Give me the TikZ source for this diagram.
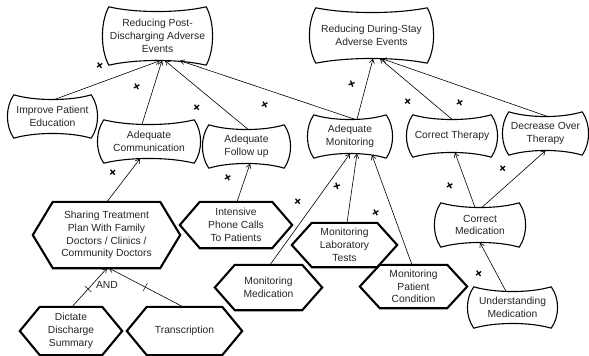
\documentclass[tikz,border=0pt]{standalone}
\usepackage{fontspec}
\setmainfont{Liberation Sans}
\usetikzlibrary{calc,arrows.meta}

% softgoal: pinched top and bottom, bulging sides
\newcommand\softgoaloutline[1]{%
  \draw[sgline] ($(#1.north west)+(6pt,4.5pt)$)
    .. controls ($(#1.north west)!0.3!(#1.north east)+(0,-1.8pt)$) and ($(#1.north west)!0.7!(#1.north east)+(0,-1.8pt)$) .. ($(#1.north east)+(-6pt,4.5pt)$)
    .. controls ($(#1.east)!0.55!(#1.north east)+(2.5pt,0)$) and ($(#1.east)!0.55!(#1.south east)+(2.5pt,0)$) .. ($(#1.south east)+(-6pt,-4.5pt)$)
    .. controls ($(#1.south west)!0.7!(#1.south east)+(0,1.8pt)$) and ($(#1.south west)!0.3!(#1.south east)+(0,1.8pt)$) .. ($(#1.south west)+(6pt,-4.5pt)$)
    .. controls ($(#1.west)!0.55!(#1.south west)+(-2.5pt,0)$) and ($(#1.west)!0.55!(#1.north west)+(-2.5pt,0)$) .. cycle;}

% task: hexagon with pointed ends
\newcommand\taskoutline[1]{%
  \draw[taskline] (#1.west) -- ($(#1.north west)+(20pt,0)$) -- ($(#1.north east)+(-20pt,0)$)
    -- (#1.east) -- ($(#1.south east)+(-20pt,0)$) -- ($(#1.south west)+(20pt,0)$) -- cycle;}

\tikzset{
  every node/.style={font=\fontsize{10.3}{12.7}\selectfont, align=center, inner sep=0pt, text=black!85},
  sgnode/.style={},
  tasknode/.style={},
  sgline/.style={line width=1.1pt, line join=round},
  taskline/.style={line width=2.1pt, line join=miter},
  contrib/.style={draw, line width=0.6pt, -{Straight Barb[length=4pt,width=5pt]}},
  plus/.style={font=\fontsize{13}{13}\selectfont\bfseries, text=black},
  andtick/.style={sloped, inner sep=0pt},
}

\begin{document}
\begin{tikzpicture}[x=1pt,y=-1pt]
\useasboundingbox[fill=white] (0,0) rectangle (589,356);

% softgoals
\node[sgnode, minimum width=109pt, minimum height=49pt] (rp) at (157.5,36) {Reducing Post-\\Discharging Adverse\\Events};
\node[sgnode, minimum width=123pt, minimum height=46pt] (rd) at (371.5,35.5) {Reducing During-Stay\\Adverse Events};
\node[sgnode, minimum width=89pt, minimum height=34pt] (imp) at (52.5,116.5) {Improve Patient\\Education};
\node[sgnode, minimum width=102pt, minimum height=34pt] (ac) at (149,141.5) {Adequate\\Communication};
\node[sgnode, minimum width=87pt, minimum height=34pt] (afu) at (246.5,146.5) {Adequate\\Follow up};
\node[sgnode, minimum width=84pt, minimum height=34pt] (am) at (350,136.5) {Adequate\\Monitoring};
\node[sgnode, minimum width=90pt, minimum height=33pt] (ct) at (452,136) {Correct Therapy};
\node[sgnode, minimum width=85pt, minimum height=34pt] (dot) at (545.5,133.5) {Decrease Over\\Therapy};
\node[sgnode, minimum width=90pt, minimum height=35pt] (cm) at (480,225) {Correct\\Medication};
\node[sgnode, minimum width=89pt, minimum height=32pt] (um) at (512.5,307.5) {Understanding\\Medication};

% tasks
\node[tasknode, minimum width=107pt, minimum height=43pt] (mpc) at (413.5,286.5) {Monitoring\\Patient\\Condition};
\node[tasknode, minimum width=105pt, minimum height=44pt] (mlt) at (344.5,245) {Monitoring\\Laboratory\\Tests};
\node[tasknode, minimum width=112pt, minimum height=46pt] (ipc) at (236,225) {Intensive\\Phone Calls\\To Patients};
\node[tasknode, minimum width=107pt, minimum height=45pt] (mm) at (268.5,287.5) {Monitoring\\Medication};
\node[tasknode, minimum width=147pt, minimum height=66pt] (sh) at (106.5,235) {Sharing Treatment\\Plan With Family\\Doctors / Clinics /\\Community Doctors};
\node[tasknode, minimum width=102pt, minimum height=48pt] (dds) at (71,331) {Dictate\\Discharge\\Summary};
\node[tasknode, minimum width=115pt, minimum height=48pt] (tr) at (184.5,331) {Transcription};

\foreach \n in {rp,rd,imp,ac,afu,am,ct,dot,cm,um} {\softgoaloutline{\n}}
\foreach \n in {mpc,mlt,ipc,mm,sh,dds,tr} {\taskoutline{\n}}

% contributions
\draw[contrib] ([xshift=2.5pt]imp.north) -- ([xshift=2.5pt]rp.south) node[plus,rotate=35] at (100,66) {+};
\draw[contrib] ([xshift=-7pt]ac.north) -- ([xshift=4.5pt]rp.south) node[plus,rotate=30] at (137,87) {+};
\draw[contrib] ([xshift=1.5pt]afu.north) -- ([xshift=7.5pt]rp.south) node[plus,rotate=40] at (197,108) {+};
\draw[contrib] ([xshift=5pt]am.north) -- ([xshift=22.5pt]rp.south) node[plus,rotate=30] at (265,105) {+};
\draw[contrib] ([xshift=7pt]am.north) -- ([xshift=1.5pt]rd.south) node[plus,rotate=20] at (352,85) {+};
\draw[contrib] (ct.north) -- ([xshift=8.5pt]rd.south) node[plus,rotate=40] at (408,102) {+};
\draw[contrib] ([xshift=1.5pt]dot.north) -- ([xshift=10.5pt]rd.south) node[plus,rotate=30] at (460,103) {+};
\draw[contrib] ([xshift=0.5pt]sh.north) -- ([xshift=-9pt]ac.south) node[plus,rotate=40] at (113,173) {+};
\draw[contrib] ([xshift=1pt]ipc.north) -- ([xshift=3.5pt]afu.south) node[plus,rotate=30] at (228,178) {+};
\draw[contrib] ([xshift=1.5pt]mm.north) -- (am.south) node[plus,rotate=40] at (298,202) {+};
\draw[contrib] ([xshift=2.5pt]mlt.north) -- ([xshift=7pt]am.south) node[plus,rotate=15] at (337,187) {+};
\draw[contrib] ([xshift=-1.5pt]mpc.north) -- ([xshift=22pt,yshift=-1.5pt]am.south) node[plus,rotate=30] at (376,213) {+};
\draw[contrib] ([xshift=-5pt]cm.north) -- ([xshift=3pt]ct.south) node[plus,rotate=30] at (450,186) {+};
\draw[contrib] ([xshift=2pt]cm.north) -- (dot.south) node[plus,rotate=40] at (503,169) {+};
\draw[contrib] ([xshift=-6.5pt]um.north) -- (cm.south) node[plus,rotate=35] at (479,274) {+};

% AND decomposition
\draw[contrib] ([xshift=1pt]dds.north) -- ([xshift=0.5pt]sh.south) node[andtick,pos=0.46] {\rule[-4.5pt]{0.6pt}{9pt}};
\draw[contrib] ([xshift=-1.5pt]tr.north) -- ([xshift=2.5pt]sh.south) node[andtick,pos=0.51] {\rule[-4.5pt]{0.6pt}{9pt}};
\node (andlbl) at (107,284.5) {AND};
\end{tikzpicture}
\end{document}
